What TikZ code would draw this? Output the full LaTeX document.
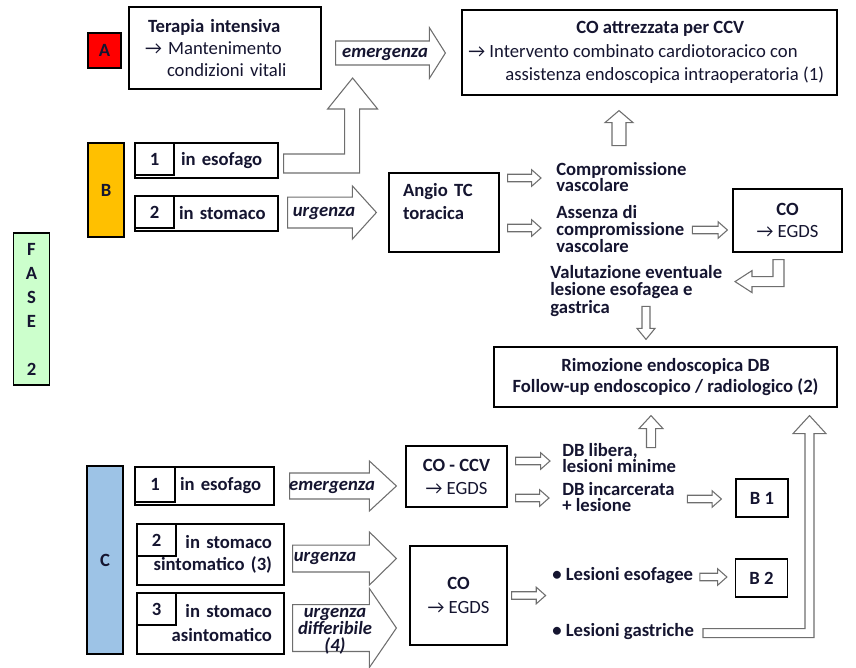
\documentclass[tikz,border=0pt]{standalone}
\usepackage{fontspec}
\setmainfont{Carlito}
\usetikzlibrary{calc, positioning}
\definecolor{fillA}{HTML}{FF0000}
\definecolor{fillB}{HTML}{FFC000}
\definecolor{fillC}{HTML}{9DC3E6}
\definecolor{fillF}{HTML}{CCFFCC}
\definecolor{arrgray}{HTML}{6E6E6E}
\definecolor{txt}{HTML}{151530}
\newcommand{\fsz}[1]{\fontsize{14}{#1}\selectfont}

\tikzset{
	base/.style={font=\fsz{17}, text=txt},
	box/.style={draw=black, line width=0.9pt, fill=white, inner sep=0pt, base},
	tag/.style={box, font=\fsz{17}\bfseries, minimum width=27pt},
	numbox/.style={box, font=\fsz{17}\bfseries, minimum width=29.25pt, minimum height=24pt},
	note/.style={base, font=\fsz{12.5}\bfseries, align=left, inner sep=0pt, anchor=west},
	arrline/.style={draw=arrgray, line width=0.8pt, fill=white, line join=miter},
	arrlbl/.style={base, font=\fsz{12.75}\bfseries\itshape, inner sep=0pt, align=center},
}

% hollow block arrow: from, to, shaft half width, head half width, head length
\newcommand{\blockarrow}[5]{%
	\coordinate (ba-s) at (#1);
	\coordinate (ba-e) at (#2);
	\coordinate (ba-h) at ($(ba-e)!#5!(ba-s)$);
	\draw[arrline] ($(ba-s)!#3!90:(ba-e)$) -- ($(ba-h)!#3!90:(ba-e)$) -- ($(ba-h)!#4!90:(ba-e)$) -- (ba-e)
		-- ($(ba-h)!#4!-90:(ba-e)$) -- ($(ba-h)!#3!-90:(ba-e)$) -- ($(ba-s)!#3!-90:(ba-e)$) -- cycle;
}
\newcommand{\smallarrow}[2]{\blockarrow{#1}{#2}{2.8pt}{6.2pt}{7pt}}

\begin{document}
\begin{tikzpicture}[x=0.75pt, y=-0.75pt]
	\useasboundingbox (0,0) rectangle (856,667);

	% Fase 2
	\node[tag, fill=fillF, minimum height=114pt, align=center, font=\fsz{18}\bfseries] (fase) at (31.5,309) {F\\A\\S\\E\\[18pt]2};

	% Caso A
	\node[tag, fill=fillA, minimum width=24.75pt, minimum height=26.25pt] (A) at (104.5,50.5) {A};
	\node[box, minimum width=144pt, minimum height=61.5pt, text width=120pt, inner xsep=12pt, align=left,
		font=\fsz{16.5}] (ti) at (225,48)
		{\hspace*{2.25pt}\textbf{Terapia intensiva}\\→ Mantenimento\\\hspace*{16.5pt}condizioni vitali};
	\node[box, minimum width=281.25pt, minimum height=63.75pt, inner xsep=2pt, align=left,
		font=\fsz{17.6}] (ccv) at (649.5,52.5)
		{\hspace*{81pt}\textbf{CO attrezzata per CCV}\\→ Intervento combinato cardiotoracico con\\\hspace*{27.75pt}assistenza endoscopica intraoperatoria (1)\kern5pt};

	% Caso B
	\node[tag, fill=fillB, minimum height=70.5pt] (B) at (106,190) {B};
	\node[box, minimum height=26.25pt, text width=107.25pt, align=left] (bone) at (206.5,160.5) {\hspace*{34.5pt}\textbf{in esofago}};
	\node[numbox, anchor=north west] (bonen) at (bone.north west) {1};
	\node[box, minimum height=26.25pt, text width=107.25pt, align=left] (btwo) at (206.5,213.5) {\hspace*{33pt}\textbf{in stomaco}};
	\node[numbox, anchor=north west] (btwon) at (btwo.north west) {2};
	\node[box, minimum width=82.5pt, minimum height=59.25pt, text width=61.5pt, inner xsep=10.5pt, align=left,
		font=\fsz{17.25}\bfseries] (angio) at (444,212.5) {Angio TC\\toracica\\ \mbox{}};
	\node[note] (comp) at (556,177) {Compromissione\\vascolare};
	\node[note] (ass) at (556,229) {Assenza di\\compromissione\\vascolare};
	\node[box, minimum width=81.75pt, minimum height=47.25pt, align=center,
		font=\fsz{16.5}] (coegds) at (787.5,220.5) {\textbf{CO}\\→ EGDS};
	\node[note, font=\fsz{13}\bfseries] (val) at (550,291) {Valutazione eventuale\\lesione esofagea e\\gastrica};
	\node[box, minimum width=257.25pt, minimum height=45pt, align=center,
		font=\fsz{15.75}\bfseries] (rim) at (665.5,377) {Rimozione endoscopica DB\\Follow-up endoscopico / radiologico (2)};

	% Caso C
	\node[tag, fill=fillC, minimum height=141pt] (C) at (105,560) {C};
	\node[box, minimum height=28.5pt, text width=104.25pt, align=left] (cone) at (204.5,486) {\hspace*{33.75pt}\textbf{in esofago}};
	\node[numbox, anchor=north west, minimum width=30pt, minimum height=26.25pt] (conen) at (cone.north west) {1};
	\node[box, minimum height=45.75pt, text width=102.25pt, inner xsep=4pt, align=right,
		font=\fsz{16.5}\bfseries] (ctwo) at (210.5,554.5) {in stomaco\kern5pt\\sintomatico (3)\kern5pt};
	\node[numbox, anchor=north west] (ctwon) at (ctwo.north west) {2};
	\node[box, minimum height=45.75pt, text width=102.25pt, inner xsep=4pt, align=right,
		font=\fsz{18}\bfseries] (cthree) at (210.5,623.5) {in stomaco\kern5pt\\asintomatico\kern5pt};
	\node[numbox, anchor=north west] (cthreen) at (cthree.north west) {3};
	\node[box, minimum width=75.75pt, minimum height=45.75pt, align=center,
		font=\fsz{17.25}] (coccv) at (456.5,476.5) {\textbf{CO - CCV}\\→ EGDS};
	\node[box, minimum width=72.75pt, minimum height=74.25pt, align=center,
		font=\fsz{18}] (coendo) at (458.5,595.5) {\textbf{CO}\\→ EGDS};
	\node[note] (libera) at (562,458) {DB libera,\\lesioni minime};
	\node[note] (incarc) at (562,497) {DB incarcerata\\+ lesione};
	\node[box, minimum width=39pt, minimum height=28.5pt, font=\fsz{17}\bfseries] (bback) at (762,498) {B 1};
	\node[box, minimum width=39pt, minimum height=28.5pt, font=\fsz{17}\bfseries] (btback) at (761.5,578) {B 2};
	\node[note] (esof) at (552,576) {\textbullet\ Lesioni esofagee};
	\node[note] (gastr) at (552,632) {\textbullet\ Lesioni gastriche};

	% frecce
	\blockarrow{$(ti.east)+(14,5)$}{$(ccv.west)+(-16,0.5)$}{9pt}{19pt}{12pt}
	\blockarrow{$(btwo.east)+(9,-1)$}{$(angio.west)+(-12,0)$}{11.6pt}{19.9pt}{18pt}
	\blockarrow{$(cone.east)+(15,0)$}{$(coccv.west)+(-9,9.5)$}{9.75pt}{18.75pt}{20.25pt}
	\blockarrow{$(ctwo.east)+(8,4)$}{$(coendo.west)+(-13,-37)$}{10.1pt}{19.9pt}{20.25pt}
	\blockarrow{$(cthree.east)+(8,4.5)$}{$(coendo.west)+(-13,32.5)$}{17.6pt}{29.6pt}{20.25pt}

	\smallarrow{$(angio.east)+(8,-34.5)$}{$(comp.west)+(-15,1)$}
	\smallarrow{$(angio.east)+(8,15.5)$}{$(ass.west)+(-15,-1)$}
	\smallarrow{$(coegds.west)+(-40,9.5)$}{$(coegds.west)+(-5,9.5)$}
	\blockarrow{$(ccv.south)+(-30.5,50)$}{$(ccv.south)+(-30.5,15)$}{5.25pt}{10.5pt}{9pt}
	\blockarrow{$(rim.north)+(-19.5,-40)$}{$(rim.north)+(-19.5,-7)$}{3pt}{6.75pt}{8.25pt}
	\blockarrow{$(rim.south)+(-14.5,40)$}{$(rim.south)+(-14.5,8)$}{3.4pt}{9pt}{9.75pt}
	\smallarrow{$(coccv.east)+(8,-15.5)$}{$(libera.west)+(-12,3)$}
	\smallarrow{$(coccv.east)+(8,21.5)$}{$(incarc.west)+(-13,1)$}
	\smallarrow{$(bback.west)+(-48,1)$}{$(bback.west)+(-14,1)$}
	\smallarrow{$(coendo.east)+(4,0)$}{$(coendo.east)+(38,0)$}
	\smallarrow{$(btback.west)+(-35,-1)$}{$(btback.west)+(-8,-1)$}

	% frecce piegate
	\draw[arrline, shift={(bone.east)}] (5,-6.5) -- (66,-6.5) -- (66,-51.5) -- (49,-51.5) -- (74,-82.5)
		-- (99,-51.5) -- (81,-51.5) -- (81,12.5) -- (5,12.5) -- cycle;
	\draw[arrline, shift={(coegds.south)}] (-14.5,7) -- (-3.5,7) -- (-3.5,34) -- (-35.5,34) -- (-35.5,40)
		-- (-52.5,29) -- (-35.5,18) -- (-35.5,24) -- (-14.5,24) -- cycle;
	\draw[arrline, shift={(rim.south)}] (37.5,221) -- (139.5,221) -- (139.5,26) -- (127.5,26) -- (144,8)
		-- (160.5,26) -- (148.5,26) -- (148.5,230) -- (37.5,230) -- cycle;

	% etichette sulle frecce
	\node[arrlbl] (emA) at (385,54) {emergenza};
	\node[arrlbl] (urgB) at (324,213) {urgenza};
	\node[arrlbl] (emC) at (332,487) {emergenza};
	\node[arrlbl] (urgC) at (325,558) {urgenza};
	\node[arrlbl] (diffC) at (335,631) {urgenza\\differibile\\(4)};
\end{tikzpicture}
\end{document}
